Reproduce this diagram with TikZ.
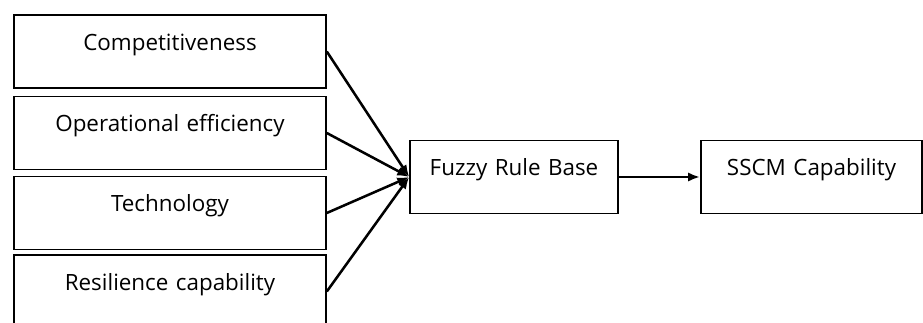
\documentclass[tikz,border=0pt]{standalone}
\usepackage{fontspec}
\setmainfont{Open Sans}
\usetikzlibrary{arrows.meta}
\tikzset{
    factor/.style={draw, line width=1.2pt, inner sep=0pt, align=center,
        text width=234pt, text height=26.5pt, text depth=28.25pt, font=\fontsize{16.8}{20}\selectfont},
    stage/.style={factor, text width=#1},
    link/.style={-{Latex[length=9pt,width=7pt]}, line width=1.9pt}
}
\begin{document}
\begin{tikzpicture}[x=0.75pt, y=-0.75pt]
    \useasboundingbox (0,0) rectangle (923,323);
    \clip (0,0) rectangle (923,323);
    % Các yếu tố đầu vào
    \node[factor] (comp) at (170,51.5) {Competitiveness};
    \node[factor] (oper) at (170,133) {Operational efficiency};
    \node[factor] (tech) at (170,213) {Technology};
    \node[factor] (resi) at (170,291.5) {Resilience capability};

    % Hệ luật mờ và đầu ra
    \node[stage=156pt] (fuzzy) at (514,177) {Fuzzy Rule Base};
    \node[stage=166pt] (sscm) at (811.5,177) {SSCM Capability};

    % Các mũi tên
    \draw[link] (comp.east) -- (fuzzy.west);
    \draw[link] (oper.east) -- (fuzzy.west);
    \draw[link] (tech.east) -- (fuzzy.west);
    \draw[link] (resi.east) -- (fuzzy.west);
    \draw[link] (fuzzy.east) -- (sscm.west);
\end{tikzpicture}
\end{document}
